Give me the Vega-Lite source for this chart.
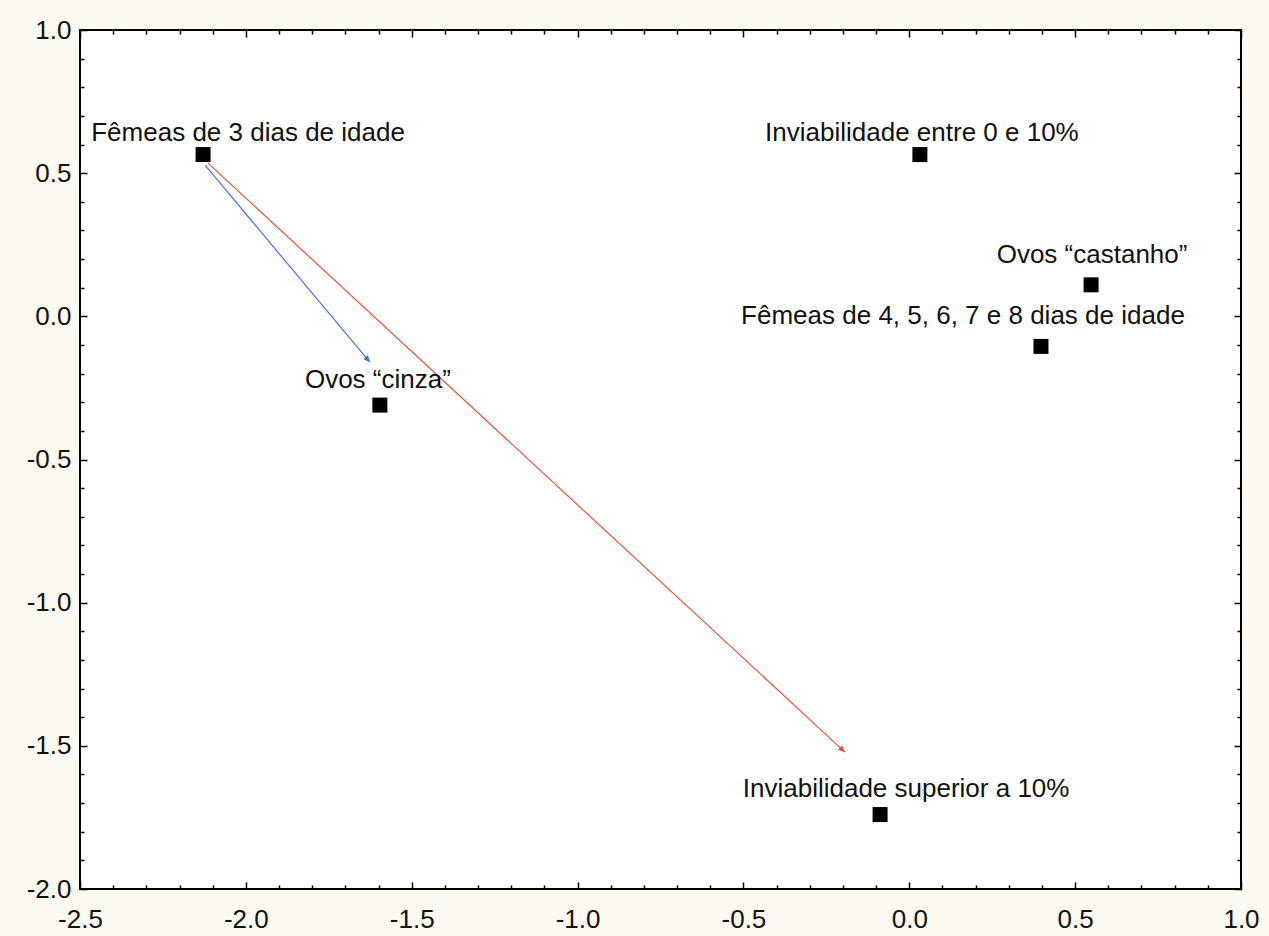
{
  "$schema": "https://vega.github.io/schema/vega-lite/v6.json",
  "width": 1161,
  "height": 859,
  "autosize": {"type": "none"},
  "padding": {"left": 80, "top": 30, "right": 28, "bottom": 47},
  "background": "#fcf9f0",
  "config": {
    "font": "Liberation Sans",
    "view": {"fill": "white", "stroke": "black", "strokeWidth": 2},
    "axis": {
      "title": null,
      "domain": false,
      "grid": false,
      "tickColor": "black",
      "tickWidth": 1.5,
      "labelColor": "#111111",
      "labelFont": "Liberation Sans",
      "labelFontSize": 26,
      "labelOverlap": false,
      "labelFlush": false
    }
  },
  "datasets": {
    "points": [
      {"label": "Fêmeas de 3 dias de idade", "x": -2.129, "y": 0.565},
      {"label": "Inviabilidade entre 0 e 10%", "x": 0.032, "y": 0.565},
      {"label": "Ovos “castanho”", "x": 0.548, "y": 0.11},
      {"label": "Fêmeas de 4, 5, 6, 7 e 8 dias de idade", "x": 0.397, "y": -0.105},
      {"label": "Ovos “cinza”", "x": -1.596, "y": -0.31},
      {"label": "Inviabilidade superior a 10%", "x": -0.088, "y": -1.74}
    ],
    "arrows": [
      {"arrow": "cinza", "x1": -2.123, "y1": 0.528, "x2": -1.626, "y2": -0.16},
      {"arrow": "superior", "x1": -2.114, "y1": 0.535, "x2": -0.194, "y2": -1.522}
    ]
  },
  "layer": [
    {
      "data": {"name": "arrows"},
      "mark": {"type": "rule", "strokeWidth": 1.2},
      "encoding": {
        "x": {
          "field": "x1", "type": "quantitative",
          "scale": {"domain": [-2.5, 1.0], "nice": false, "zero": false},
          "axis": {
            "orient": "top", "labels": false,
            "values": [-2.5,-2.4,-2.3,-2.2,-2.1,-2.0,-1.9,-1.8,-1.7,-1.6,-1.5,-1.4,-1.3,-1.2,-1.1,-1.0,-0.9,-0.8,-0.7,-0.6,-0.5,-0.4,-0.3,-0.2,-0.1,0.0,0.1,0.2,0.3,0.4,0.5,0.6,0.7,0.8,0.9,1.0],
            "tickSize": {"condition": {"test": "abs(datum.value*2 - round(datum.value*2)) < 0.001", "value": -7}, "value": -4}
          }
        },
        "y": {
          "field": "y1", "type": "quantitative",
          "scale": {"domain": [-2.0, 1.0], "nice": false, "zero": false},
          "axis": {
            "orient": "right", "labels": false,
            "values": [-2.0,-1.9,-1.8,-1.7,-1.6,-1.5,-1.4,-1.3,-1.2,-1.1,-1.0,-0.9,-0.8,-0.7,-0.6,-0.5,-0.4,-0.3,-0.2,-0.1,0.0,0.1,0.2,0.3,0.4,0.5,0.6,0.7,0.8,0.9,1.0],
            "tickSize": {"condition": {"test": "abs(datum.value*2 - round(datum.value*2)) < 0.001", "value": -7}, "value": -4}
          }
        },
        "x2": {"field": "x2"},
        "y2": {"field": "y2"},
        "color": {
          "field": "arrow", "type": "nominal",
          "scale": {"domain": ["cinza", "superior"], "range": ["#4a6fdc", "#e2553c"]},
          "legend": null
        }
      }
    },
    {
      "data": {"name": "arrows"},
      "transform": [{"filter": {"field": "arrow", "equal": "cinza"}}],
      "mark": {"type": "point", "shape": "M0,0L-0.45,1L0.45,1Z", "filled": true, "opacity": 1, "size": 180, "angle": 140, "color": "#4a6fdc"},
      "encoding": {
        "x": {"field": "x2", "type": "quantitative", "axis": null},
        "y": {"field": "y2", "type": "quantitative", "axis": null}
      }
    },
    {
      "data": {"name": "arrows"},
      "transform": [{"filter": {"field": "arrow", "equal": "superior"}}],
      "mark": {"type": "point", "shape": "M0,0L-0.45,1L0.45,1Z", "filled": true, "opacity": 1, "size": 180, "angle": 133, "color": "#e2553c"},
      "encoding": {
        "x": {"field": "x2", "type": "quantitative", "axis": null},
        "y": {"field": "y2", "type": "quantitative", "axis": null}
      }
    },
    {
      "data": {"name": "points"},
      "mark": {"type": "point", "shape": "square", "filled": true, "opacity": 1, "size": 225, "color": "black"},
      "encoding": {
        "x": {
          "field": "x", "type": "quantitative",
          "axis": {
            "orient": "bottom",
            "values": [-2.5,-2.4,-2.3,-2.2,-2.1,-2.0,-1.9,-1.8,-1.7,-1.6,-1.5,-1.4,-1.3,-1.2,-1.1,-1.0,-0.9,-0.8,-0.7,-0.6,-0.5,-0.4,-0.3,-0.2,-0.1,0.0,0.1,0.2,0.3,0.4,0.5,0.6,0.7,0.8,0.9,1.0],
            "labelExpr": "abs(datum.value*2 - round(datum.value*2)) < 0.001 ? replace(format(datum.value, '.1f'), '\u2212', '-') : ''",
            "labelPadding": 24,
            "tickSize": {"condition": {"test": "abs(datum.value*2 - round(datum.value*2)) < 0.001", "value": -7}, "value": -4}
          }
        },
        "y": {
          "field": "y", "type": "quantitative",
          "axis": {
            "orient": "left",
            "values": [-2.0,-1.9,-1.8,-1.7,-1.6,-1.5,-1.4,-1.3,-1.2,-1.1,-1.0,-0.9,-0.8,-0.7,-0.6,-0.5,-0.4,-0.3,-0.2,-0.1,0.0,0.1,0.2,0.3,0.4,0.5,0.6,0.7,0.8,0.9,1.0],
            "labelExpr": "abs(datum.value*2 - round(datum.value*2)) < 0.001 ? replace(format(datum.value, '.1f'), '\u2212', '-') : ''",
            "labelPadding": 16,
            "tickSize": {"condition": {"test": "abs(datum.value*2 - round(datum.value*2)) < 0.001", "value": -7}, "value": -4}
          }
        }
      }
    },
    {
      "data": {"name": "points"},
      "transform": [{"filter": {"field": "label", "equal": "Fêmeas de 3 dias de idade"}}],
      "mark": {"type": "text", "fontSize": 26, "color": "#111111", "align": "center", "baseline": "alphabetic", "dx": 45, "dy": -14},
      "encoding": {"x": {"field": "x", "type": "quantitative", "axis": null}, "y": {"field": "y", "type": "quantitative", "axis": null}, "text": {"field": "label"}}
    },
    {
      "data": {"name": "points"},
      "transform": [{"filter": {"field": "label", "equal": "Inviabilidade entre 0 e 10%"}}],
      "mark": {"type": "text", "fontSize": 26, "color": "#111111", "align": "center", "baseline": "alphabetic", "dx": 2, "dy": -14},
      "encoding": {"x": {"field": "x", "type": "quantitative", "axis": null}, "y": {"field": "y", "type": "quantitative", "axis": null}, "text": {"field": "label"}}
    },
    {
      "data": {"name": "points"},
      "transform": [{"filter": {"field": "label", "equal": "Ovos “castanho”"}}],
      "mark": {"type": "text", "fontSize": 26, "color": "#111111", "align": "center", "baseline": "alphabetic", "dx": 1, "dy": -22},
      "encoding": {"x": {"field": "x", "type": "quantitative", "axis": null}, "y": {"field": "y", "type": "quantitative", "axis": null}, "text": {"field": "label"}}
    },
    {
      "data": {"name": "points"},
      "transform": [{"filter": {"field": "label", "equal": "Fêmeas de 4, 5, 6, 7 e 8 dias de idade"}}],
      "mark": {"type": "text", "fontSize": 26, "color": "#111111", "align": "center", "baseline": "alphabetic", "dx": -78, "dy": -22},
      "encoding": {"x": {"field": "x", "type": "quantitative", "axis": null}, "y": {"field": "y", "type": "quantitative", "axis": null}, "text": {"field": "label"}}
    },
    {
      "data": {"name": "points"},
      "transform": [{"filter": {"field": "label", "equal": "Ovos “cinza”"}}],
      "mark": {"type": "text", "fontSize": 26, "color": "#111111", "align": "center", "baseline": "alphabetic", "dx": -2, "dy": -17},
      "encoding": {"x": {"field": "x", "type": "quantitative", "axis": null}, "y": {"field": "y", "type": "quantitative", "axis": null}, "text": {"field": "label"}}
    },
    {
      "data": {"name": "points"},
      "transform": [{"filter": {"field": "label", "equal": "Inviabilidade superior a 10%"}}],
      "mark": {"type": "text", "fontSize": 26, "color": "#111111", "align": "center", "baseline": "alphabetic", "dx": 26, "dy": -18},
      "encoding": {"x": {"field": "x", "type": "quantitative", "axis": null}, "y": {"field": "y", "type": "quantitative", "axis": null}, "text": {"field": "label"}}
    }
  ]
}
